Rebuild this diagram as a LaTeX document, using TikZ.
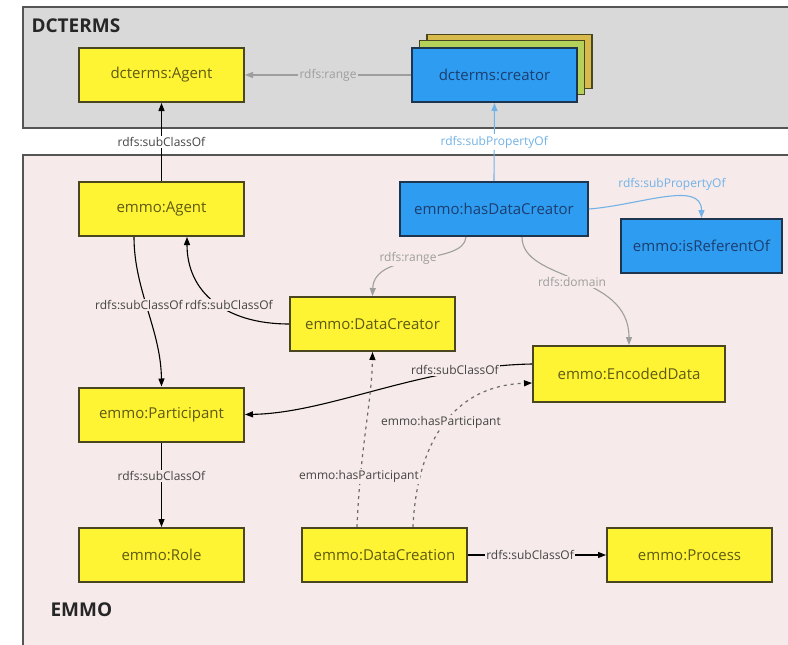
\documentclass[tikz,border=0pt]{standalone}
\usepackage{fontspec}
\setmainfont{Open Sans}
\usetikzlibrary{arrows.meta}
\definecolor{yfill}{HTML}{FFF433}
\definecolor{ydraw}{HTML}{4A4720}
\definecolor{ytext}{HTML}{5E5A14}
\definecolor{bfill}{HTML}{2E9CF0}
\definecolor{bdraw}{HTML}{1E3550}
\definecolor{btext}{HTML}{1C3E70}
\definecolor{dcbg}{HTML}{D9D9D9}
\definecolor{framecol}{HTML}{555555}
\definecolor{emmobg}{HTML}{F6EAEA}
\definecolor{graycol}{HTML}{9E9E9E}
\definecolor{bluecol}{HTML}{72B2E6}
\definecolor{labcol}{HTML}{444444}
\definecolor{stackgold}{HTML}{D8B94C}
\definecolor{stackgreen}{HTML}{B4D25A}
\begin{document}
\begin{tikzpicture}[x=1pt,y=-1pt,
  ybox/.style={draw=ydraw,fill=yfill,line width=2pt,minimum width=165pt,minimum height=54pt,inner sep=0pt,text=ytext,font=\fontsize{15}{17}\selectfont},
  bbox/.style={draw=bdraw,fill=bfill,line width=2pt,minimum width=165pt,minimum height=54pt,inner sep=0pt,text=btext,font=\fontsize{15}{17}\selectfont},
  stacklayer/.style={draw=ydraw,line width=1.6pt,minimum width=165pt,minimum height=54pt,inner sep=0pt},
  edge/.style={line width=1.1pt,draw=black,-{Triangle[length=8pt,width=6pt]}},
  grayedge/.style={line width=1.1pt,draw=graycol,-{Triangle[length=8pt,width=6pt]}},
  blueedge/.style={line width=1.1pt,draw=bluecol,-{Triangle[length=8pt,width=6pt]}},
  dashedge/.style={line width=1.2pt,draw=gray!85!black,dash pattern=on 3pt off 4pt,-{Triangle[length=8pt,width=6pt,color=black]}},
  lab/.style={inner sep=1.5pt,text=labcol,font=\fontsize{12}{14}\selectfont},
  title/.style={font=\bfseries\fontsize{19}{22}\selectfont,text=black!85,anchor=west}
]
\useasboundingbox (0,0) rectangle (788,645);
\fill[white] (0,0) rectangle (788,645);
\begin{scope}
\clip (0,0) rectangle (788,645);
\draw[fill=dcbg,draw=framecol,line width=2pt] (23,7) rectangle (810,128);
\draw[fill=emmobg,draw=framecol,line width=2pt] (23,155) rectangle (810,670);
\end{scope}
\node[title] (dctitle) at (28,26) {DCTERMS};
\node[title] (emmotitle) at (47,610) {EMMO};

% nodes
\node[ybox] (dcAgent) at (161.5,75) {dcterms:Agent};
\node[stacklayer,fill=stackgold] (creatorBack) at (509.5,61.5) {};
\node[stacklayer,fill=stackgreen] (creatorMid) at (502,67.5) {};
\node[bbox] (creator) at (494.5,75) {dcterms:creator};
\node[ybox] (emAgent) at (161.5,209) {emmo:Agent};
\node[bbox,minimum width=188pt] (hasDC) at (494,209) {emmo:hasDataCreator};
\node[bbox,minimum width=161pt] (isRef) at (701.5,246) {emmo:isReferentOf};
\node[ybox] (DataCreator) at (372.5,324) {emmo:DataCreator};
\node[ybox,minimum width=192pt,minimum height=56pt] (EncodedData) at (629,374) {emmo:EncodedData};
\node[ybox] (Participant) at (161.5,414.5) {emmo:Participant};
\node[ybox] (Role) at (161.5,555) {emmo:Role};
\node[ybox] (DataCreation) at (384.5,555) {emmo:DataCreation};
\node[ybox] (Process) at (689.5,555) {emmo:Process};

% straight connectors
\draw[edge] (emAgent.north) -- node[lab,fill=white] (l1) {rdfs:subClassOf} (dcAgent.south);
\draw[blueedge] (hasDC.north) -- node[lab,fill=white,text=bluecol] (l2) {rdfs:subPropertyOf} (creator.south);
\draw[grayedge] (creator.west) -- node[lab,fill=dcbg,text=graycol] (l3) {rdfs:range} (dcAgent.east);
\draw[edge] (Participant.south) -- node[lab,fill=emmobg,pos=0.4] (l4) {rdfs:subClassOf} (Role.north);
\draw[edge] (DataCreation.east) -- node[lab,fill=emmobg,pos=0.45] (l5) {rdfs:subClassOf} (Process.west);

% curved connectors
\draw[edge] ([xshift=-27.5pt]emAgent.south) .. controls (134,290) and (161,330) .. (Participant.north);
\draw[edge] (DataCreator.west) .. controls (225,324) and (187,292) .. ([xshift=25.5pt]emAgent.south);
\node[lab,fill=emmobg] (l6) at (139,305) {rdfs:subClassOf};
\node[lab,fill=emmobg] (l7) at (229,305) {rdfs:subClassOf};

\draw[edge] ([yshift=10pt]EncodedData.west) .. controls (420,366) and (330,413) .. (Participant.east);
\node[lab,fill=emmobg] (l8) at (455,370) {rdfs:subClassOf};

\draw[dashedge] ([xshift=-27.5pt]DataCreation.north) .. controls (360,450) and (372,400) .. (DataCreator.south);
\draw[dashedge] ([xshift=28.5pt]DataCreation.north) .. controls (416,455) and (445,386) .. ([yshift=-9pt]EncodedData.west);
\node[lab,fill=emmobg] (l9) at (441,422) {emmo:hasParticipant};
\node[lab,fill=emmobg] (l10) at (359,476) {emmo:hasParticipant};

\draw[grayedge] ([xshift=-28pt]hasDC.south) .. controls (464,266) and (374,250) .. (DataCreator.north);
\node[lab,fill=emmobg,text=graycol] (l11) at (408,258) {rdfs:range};
\draw[grayedge] ([xshift=28pt]hasDC.south) .. controls (522,282) and (629,272) .. (EncodedData.north);
\node[lab,fill=emmobg,text=graycol] (l12) at (572,282) {rdfs:domain};
\draw[blueedge] (hasDC.east) .. controls (640,205) and (701.5,180) .. (isRef.north);
\node[lab,fill=emmobg,text=bluecol] (l13) at (672,184) {rdfs:subPropertyOf};
\end{tikzpicture}
\end{document}
